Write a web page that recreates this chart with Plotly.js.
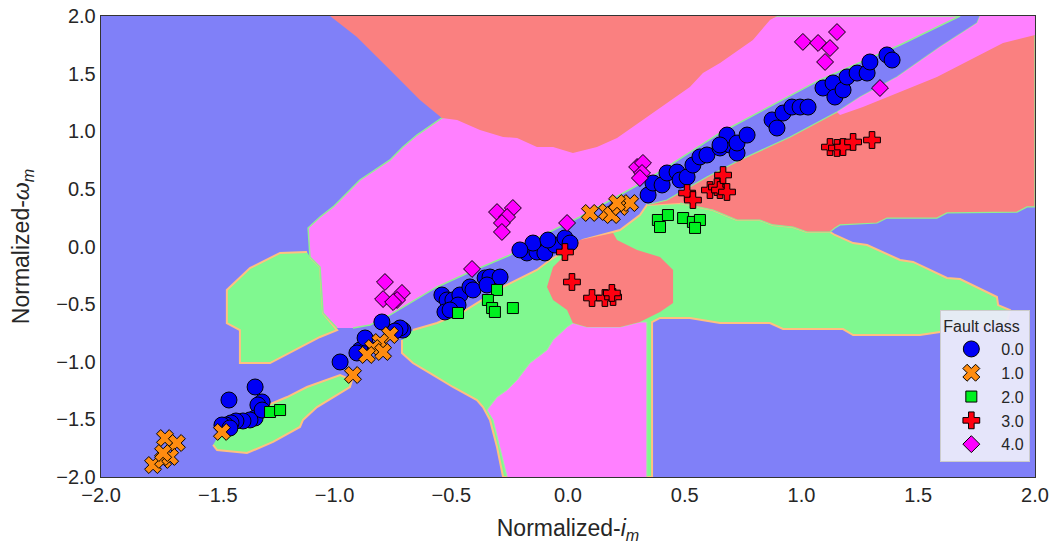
<!DOCTYPE html>
<html>
<head>
<meta charset="utf-8">
<script src="https://cdn.plot.ly/plotly-3.0.1.min.js"></script>
<style>html,body{margin:0;padding:0;background:#fff;}#chart{width:1056px;height:550px;}</style>
</head>
<body>
<div id="chart"></div>
<script>
// ---------- decision regions (data coordinates) ----------
const green1X = [-1.118,-1.233,-1.362,-1.418,-1.461,-1.461,-1.405,-1.405,-1.276,-1.062,-0.989,-1.049,-1.062,-1.105];
const green1Y = [-0.048,-0.056,-0.187,-0.291,-0.377,-0.664,-0.725,-1.011,-1.011,-0.785,-0.725,-0.577,-0.178,-0.091];

const green2X = [-1.520,-1.503,-1.375,-1.263,-1.148,-1.135,-1.075,-1.006,-0.934,-0.925,-0.976,-1.118,-1.203,-1.306,-1.461,-1.503];
const green2Y = [-1.722,-1.766,-1.792,-1.696,-1.566,-1.505,-1.393,-1.306,-1.219,-1.158,-1.115,-1.219,-1.306,-1.393,-1.566,-1.662];

const green3X = [-0.664,-0.561,-0.450,-0.390,-0.278,-0.133,-0.077,0.064,0.223,0.308,0.338,0.480,0.621,0.651,0.724,0.822,0.878,0.964,1.024,1.122,1.143,1.221,1.281,1.422,1.478,1.623,1.679,1.837,1.842,1.893,1.880,1.507,1.221,1.178,0.921,0.865,0.651,0.522,0.394,0.360,0.360,-0.278,-0.304,-0.334,-0.364,-0.390,-0.493,-0.591,-0.664,-0.711,-0.711];
const green3Y = [-0.725,-0.664,-0.568,-0.490,-0.351,-0.204,-0.117,0.056,0.143,0.273,0.360,0.377,0.317,0.291,0.230,0.230,0.187,0.169,0.126,0.126,0.100,0.030,0.013,-0.117,-0.134,-0.273,-0.282,-0.438,-0.508,-0.551,-0.655,-0.768,-0.768,-0.716,-0.716,-0.664,-0.664,-0.620,-0.620,-0.655,-2.0,-2.0,-1.740,-1.505,-1.393,-1.332,-1.219,-1.098,-1.011,-0.924,-0.811];

const magenta3X = [-0.261,-0.291,-0.321,-0.347,-0.304,-0.261,-0.218,-0.163,-0.090,-0.064,-0.004,0.021,0.081,0.223,0.308,0.338,0.338];
const magenta3Y = [-2.0,-1.740,-1.505,-1.419,-1.306,-1.245,-1.158,-1.011,-0.898,-0.811,-0.698,-0.664,-0.698,-0.698,-0.655,-0.655,-2.0];

const red3X = [-0.090,-0.064,-0.004,0.051,0.193,0.210,0.296,0.394,0.450,0.450,0.394,0.308,0.223,0.081,0.021,-0.004,-0.064];
const red3Y = [-0.351,-0.178,-0.056,0.056,0.117,0.056,-0.030,-0.091,-0.204,-0.490,-0.568,-0.655,-0.698,-0.698,-0.664,-0.551,-0.464];

const magenta1X = [-0.989,-1.049,-1.062,-1.105,-1.113,-1.062,-1.006,-0.946,-0.891,-0.762,-0.707,-0.647,-0.540,0.895,1.679,1.422,1.079,0.651,0.338,0.051,-0.176,-0.248,-0.420,-0.561,-0.762,-0.848,-0.921];
const magenta1Y = [-0.707,-0.577,-0.178,-0.091,0.161,0.256,0.343,0.464,0.577,0.751,0.863,0.967,1.115,2.0,2.0,1.748,1.445,0.985,0.577,0.256,0.030,-0.074,-0.221,-0.351,-0.594,-0.681,-0.707];

const red1X = [-1.019,0.895,0.865,0.792,0.651,0.578,0.522,0.424,0.321,0.210,0.124,0.021,-0.064,-0.133,-0.218,-0.278,-0.377,-0.475,-0.540,-0.634,-0.762,-0.904];
const red1Y = [2.0,2.0,1.965,1.792,1.592,1.505,1.384,1.245,1.098,0.941,0.863,0.811,0.863,0.863,0.941,0.950,1.011,1.098,1.115,1.271,1.531,1.818];

const red2X = [0.338,0.424,0.595,0.737,0.951,1.152,1.251,1.409,1.593,1.752,1.764,2.0,2.0,1.966,1.923,1.623,1.580,1.366,1.323,1.165,1.143,1.122,1.024,0.964,0.878,0.822,0.724,0.651,0.621,0.480];
const red2Y = [0.360,0.403,0.603,0.751,0.950,1.167,1.297,1.471,1.731,1.939,2.0,2.0,0.343,0.343,0.299,0.291,0.247,0.247,0.204,0.187,0.161,0.126,0.126,0.169,0.187,0.230,0.230,0.291,0.317,0.377];

const magenta2X = [1.764,2.0,2.0,1.863,1.580,1.263,1.165,1.152,1.251,1.409,1.593,1.752];
const magenta2Y = [2.0,2.0,1.835,1.766,1.471,1.210,1.141,1.167,1.297,1.471,1.731,1.939];

// ---------- samples ----------
const classNames = ["0.0","1.0","2.0","3.0","4.0"];
const class0X = [-1.452,-1.340,-1.310,-1.328,-1.340,-1.362,-1.392,-1.422,-1.443,-1.465,-1.482,-1.448,-1.310,-0.976,-0.797,-0.861,-0.891,-0.904,-0.869,-0.707,-0.719,-0.741,-0.540,-0.518,-0.527,-0.493,-0.463,-0.420,-0.407,-0.471,-0.505,-0.355,-0.334,-0.291,-0.347,-0.176,-0.133,-0.099,-0.150,-0.056,-0.013,0.009,-0.086,-0.206,0.343,0.364,0.403,0.424,0.467,0.480,0.510,0.535,0.565,0.595,0.651,0.694,0.681,0.651,0.724,0.724,0.767,0.874,0.895,0.921,0.959,0.994,1.028,1.092,1.135,1.143,1.178,1.195,1.238,1.281,1.293,1.366,1.388];
const class0Y = [-1.332,-1.219,-1.349,-1.375,-1.488,-1.505,-1.514,-1.514,-1.531,-1.549,-1.549,-1.575,-1.419,-1.002,-0.655,-0.872,-0.898,-0.924,-0.794,-0.725,-0.707,-0.733,-0.421,-0.464,-0.568,-0.464,-0.421,-0.351,-0.377,-0.508,-0.551,-0.273,-0.265,-0.265,-0.334,-0.056,-0.048,-0.056,0.030,0.013,0.074,0.030,0.056,-0.030,0.447,0.551,0.534,0.638,0.646,0.577,0.603,0.707,0.777,0.794,0.855,0.881,0.967,0.881,0.811,0.898,0.967,1.098,1.028,1.158,1.210,1.210,1.210,1.375,1.419,1.297,1.358,1.471,1.505,1.505,1.601,1.662,1.618];
const class1X = [-1.726,-1.675,-1.777,-1.734,-1.704,-1.734,-0.921,-0.762,-0.805,-0.835,-0.792,-0.861,-1.482,0.094,0.167,0.188,0.223,0.266,0.210];
const class1Y = [-1.662,-1.705,-1.896,-1.852,-1.826,-1.792,-1.115,-0.768,-0.829,-0.881,-0.915,-0.941,-1.609,0.291,0.299,0.273,0.343,0.377,0.377];
const class2X = [-1.276,-1.233,-0.471,-0.304,-0.343,-0.325,-0.313,-0.236,0.385,0.428,0.394,0.493,0.535,0.565,0.544];
const class2Y = [-1.436,-1.419,-0.577,-0.377,-0.464,-0.534,-0.568,-0.534,0.230,0.273,0.169,0.247,0.213,0.230,0.161];
const class3X = [-0.013,0.017,0.103,0.158,0.193,0.188,0.510,0.535,0.608,0.638,0.651,0.664,0.681,1.122,1.152,1.178,1.221,1.302];
const class3Y = [-0.048,-0.308,-0.447,-0.447,-0.438,-0.403,0.464,0.403,0.490,0.516,0.490,0.620,0.473,0.863,0.855,0.863,0.907,0.924];
const class4X = [-0.784,-0.792,-0.711,-0.732,-0.749,-0.304,-0.236,-0.261,-0.283,-0.283,-0.004,-0.411,0.296,0.321,0.317,0.308,1.006,1.071,1.122,1.101,1.152,1.336];
const class4Y = [-0.308,-0.456,-0.403,-0.464,-0.482,0.299,0.334,0.256,0.204,0.126,0.204,-0.195,0.690,0.725,0.638,0.594,1.775,1.766,1.722,1.601,1.861,1.375];

// ---------- styling ----------
const BG_BLUE = "#8080f8", RG_RED = "#fa8080", RG_MAG = "#ff80ff", RG_GREEN = "#80f890";
const EDGE_GREEN = "#ffc080", EDGE_OTHER = "#90ee90";

function region(x, y, fill, edge, ew) {
  return {x: x, y: y, type: "scatter", mode: "lines", fill: "toself", fillcolor: fill,
          line: {color: edge, width: ew}, hoverinfo: "skip", showlegend: false};
}
const regions = [
  region(green1X, green1Y, RG_GREEN, EDGE_GREEN, 2),
  region(green2X, green2Y, RG_GREEN, EDGE_GREEN, 2),
  region(green3X, green3Y, RG_GREEN, EDGE_GREEN, 2),
  region(magenta3X, magenta3Y, RG_MAG, "#a0f0a0", 1),
  region(red3X, red3Y, RG_RED, RG_RED, 0),
  region(magenta1X, magenta1Y, RG_MAG, EDGE_OTHER, 1.5),
  region(red1X, red1Y, RG_RED, RG_RED, 0),
  region(red2X, red2Y, RG_RED, EDGE_OTHER, 1.2),
  region(magenta2X, magenta2Y, RG_MAG, RG_MAG, 0)
];

const markerStyles = [
  {symbol: "circle", color: "#0000f5", size: 16},
  {symbol: "x", color: "#ff8c10", size: 15},
  {symbol: "square", color: "#00f020", size: 11},
  {symbol: "cross", color: "#ff0010", size: 14},
  {symbol: "diamond", color: "#ff00ff", size: 13}
];
const xs = [class0X, class1X, class2X, class3X, class4X];
const ys = [class0Y, class1Y, class2Y, class3Y, class4Y];
const samples = classNames.map((name, i) => ({
  x: xs[i], y: ys[i], type: "scatter", mode: "markers", name: name,
  marker: {symbol: markerStyles[i].symbol, color: markerStyles[i].color, size: markerStyles[i].size,
           line: {color: "#000000", width: 1}}
}));

const tickFont = {family: "Liberation Sans, Arial, sans-serif", size: 20, color: "#262626"};
const titleFont = {family: "Liberation Sans, Arial, sans-serif", size: 23, color: "#262626"};

const layout = {
  width: 1056, height: 550,
  margin: {l: 101, r: 21, t: 16, b: 73},
  paper_bgcolor: "#ffffff",
  plot_bgcolor: BG_BLUE,
  xaxis: {range: [-2, 2], dtick: 0.5, tick0: -2, tickformat: ".1f", showgrid: false, zeroline: false,
          showline: true, mirror: true, linecolor: "#333333", linewidth: 1.3, ticks: "",
          tickfont: tickFont, title: {text: "Normalized-<i>i</i><sub><i>m</i></sub>", font: titleFont, standoff: 14}},
  yaxis: {range: [-2, 2], dtick: 0.5, tick0: -2, tickformat: ".1f", showgrid: false, zeroline: false,
          showline: true, mirror: true, linecolor: "#333333", linewidth: 1.3, ticks: "",
          tickfont: tickFont, title: {text: "Normalized-<i>ω</i><sub><i>m</i></sub>", font: titleFont, standoff: 20}},
  legend: {x: 0.995, y: 0.032, xanchor: "right", yanchor: "bottom",
           bgcolor: "rgba(234,234,250,0.95)", bordercolor: "#cccccc", borderwidth: 1,
           font: {family: "Liberation Sans, Arial, sans-serif", size: 16, color: "#262626"},
           title: {text: "Fault class", font: {family: "Liberation Sans, Arial, sans-serif", size: 16, color: "#262626"}},
           itemwidth: 50, tracegroupgap: 0},
  showlegend: true
};

Plotly.newPlot("chart", regions.concat(samples), layout, {displayModeBar: false, staticPlot: true});
</script>
</body>
</html>
